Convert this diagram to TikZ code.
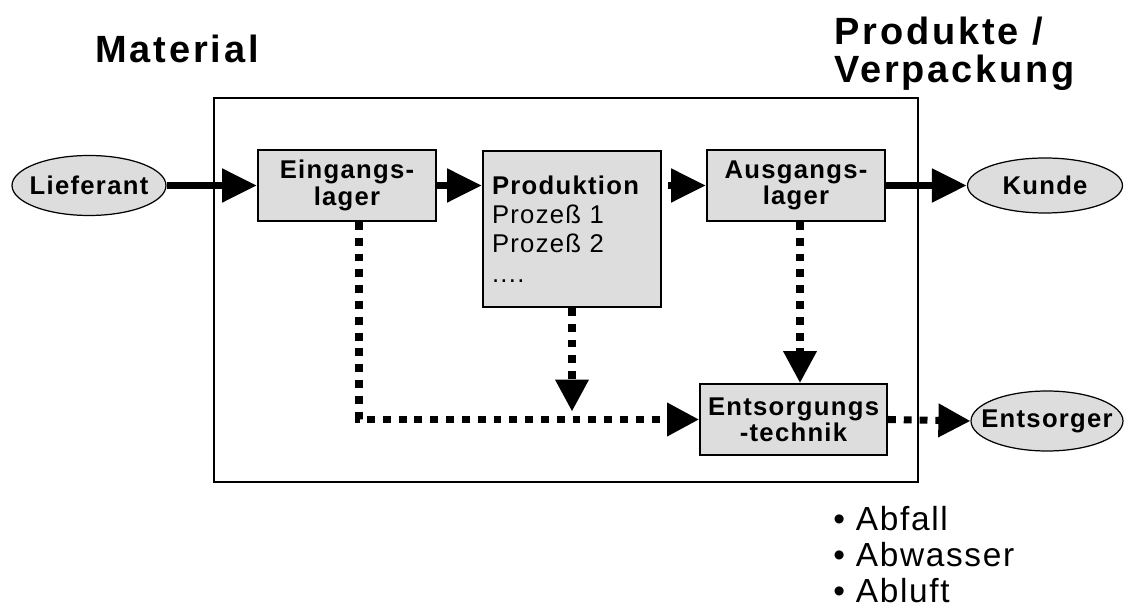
\documentclass[tikz,border=0pt]{standalone}
\usepackage{fontspec}
\setmainfont{Liberation Sans}[LetterSpace=5]
\newfontfamily\titlefont{Liberation Sans}[LetterSpace=7.5]
\usetikzlibrary{arrows.meta,shapes.geometric}
\definecolor{boxgray}{HTML}{DDDDDD}

\begin{document}
\begin{tikzpicture}[x=0.02cm, y=-0.02cm,
  every node/.style={inner sep=0pt},
  lbl/.style={font=\fontsize{14.6}{15}\selectfont\bfseries},
  stock/.style={draw, line width=1.1pt, fill=boxgray, minimum width=3.56cm, minimum height=1.42cm, align=center, lbl},
  oval/.style={draw, line width=0.7pt, fill=boxgray, ellipse, minimum width=3.08cm, minimum height=1.2cm},
  flow/.style={line width=4.5pt, -{Triangle[length=0.7cm, width=0.64cm]}},
  waste/.style={line width=4pt, dash pattern=on 4.5pt off 4.5pt, -{Triangle[length=0.64cm, width=0.64cm]}},
  title/.style={font=\titlefont\fontsize{21.6}{21.4}\selectfont\bfseries, align=left},
  bullet/.style={font=\fontsize{19}{20}\selectfont}]
  \useasboundingbox (0,0) rectangle (1125,614);
  \node[title, anchor=base west] (material) at (95,63) {Material};
  \node[title, anchor=north west] (produkte) at (834,17) {Produkte /\\Verpackung};
  \draw[line width=1.1pt] (214,98) rectangle (918,482);
  % lager and production
  \node[stock] (ein) at (347,185.5) {Eingangs-\\lager};
  \node[stock, minimum height=3.12cm, text width=3.2cm, align=left,
        font=\fontsize{14.6}{16.6}\selectfont] (prod) at (572,229)
        {\textbf{Produktion}\\Prozeß 1\\Prozeß 2\\....};
  \node[stock] (aus) at (796,185.5) {Ausgangs-\\lager};
  \node[stock, minimum width=3.74cm] (ents) at (793.5,419.5) {Entsorgungs\\-technik};
  % outside partners
  \node[oval, label={[lbl]center:Lieferant}] (lief) at (89,185.5) {};
  \node[oval, minimum width=3.1cm, minimum height=1.1cm, label={[lbl]center:Kunde}] (kunde) at (1045,185.5) {};
  \node[oval, minimum width=3.04cm, label={[lbl]center:Entsorger}] (entsorger) at (1047,421) {};
  \draw[flow] (lief.east) -- (ein.west);
  \draw[flow] (ein.east) -- (ein.east -| prod.west);
  \draw[flow, shorten <=0.12cm] (aus.west -| prod.east) -- (aus.west);
  \draw[flow] (aus.east) -- (kunde.west);
  \draw[waste] ([xshift=0.24cm]ein.south) |- (ents.west);
  \draw[waste] (prod.south) -- ([yshift=0.16cm]prod.south |- ents.west);
  \draw[waste] ([xshift=0.08cm]aus.south) -- ([xshift=0.08cm]aus.south |- ents.north);
  \draw[waste] (ents.east) -- (entsorger.west);
  \foreach \y/\word in {530/Abfall,566/Abwasser,602/Abluft}
    \node[bullet, anchor=base west] (b\word) at (833,\y) {• \word};
\end{tikzpicture}
\end{document}
